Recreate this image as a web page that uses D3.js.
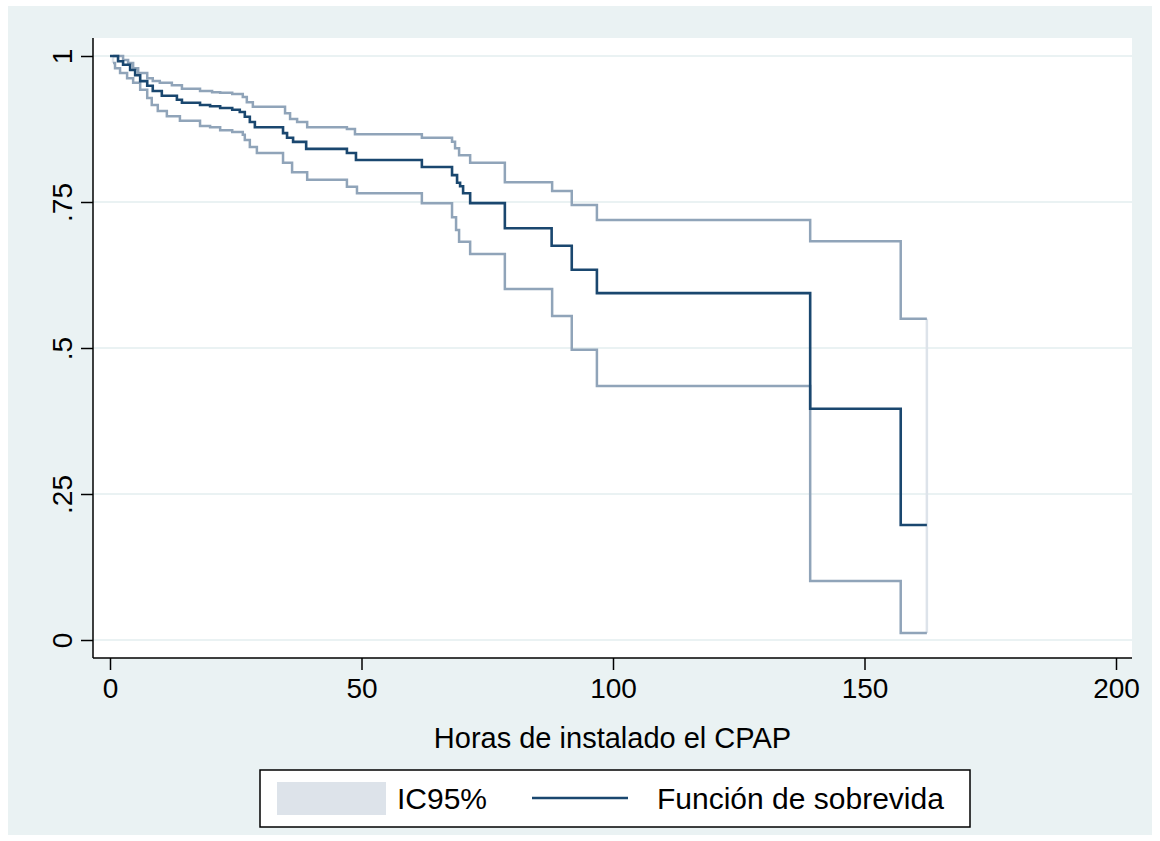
<!DOCTYPE html>
<html>
<head>
<meta charset="utf-8">
<script src="https://cdn.jsdelivr.net/npm/d3@7"></script>
<style>
  html, body { margin: 0; padding: 0; background: #fff; }
  svg { display: block; font-family: "Liberation Sans", Arial, sans-serif; }
</style>
</head>
<body>
<svg id="chart" width="1160" height="841"></svg>
<script>
// Kaplan-Meier survival estimate (hours since CPAP was installed)
const kmTime = [0, 1.6, 2.6, 4.0, 5.0, 6.0, 7.4, 8.5, 10.3, 13.3, 14.3, 17.9, 19.9, 21.9, 24.3, 25.8,
  26.8, 27.8, 28.8, 34.4, 35.2, 36.4, 39.0, 47.1, 48.9, 62.0, 68.0, 69.0, 69.6, 70.2, 71.6,
  78.5, 87.8, 91.8, 96.8, 139.2, 157.2];
const kmSurv = [1.0, 0.991, 0.985, 0.976, 0.967, 0.957, 0.949, 0.940, 0.932, 0.925, 0.920, 0.916, 0.914, 0.911, 0.908, 0.904,
  0.896, 0.887, 0.878, 0.868, 0.860, 0.853, 0.841, 0.834, 0.822, 0.810, 0.796, 0.783, 0.777, 0.765, 0.748,
  0.705, 0.675, 0.634, 0.594, 0.396, 0.197];

// upper 95% bound
const upTime = [0.6, 2.6, 3.6, 4.6, 5.6, 7.4, 8.5, 9.9, 12.3, 14.3, 17.9, 20.3, 21.9, 24.3, 26.4, 27.2,
  28.4, 34.8, 35.8, 37.2, 39.2, 47.1, 48.7, 62.0, 68.0, 68.6, 69.4, 71.6, 78.5, 87.9, 91.8, 96.8,
  139.2, 157.2];
const upSurv = [1.0, 0.993, 0.988, 0.979, 0.971, 0.962, 0.957, 0.954, 0.950, 0.944, 0.940, 0.938, 0.937, 0.935, 0.930, 0.921,
  0.913, 0.902, 0.892, 0.887, 0.878, 0.875, 0.866, 0.860, 0.853, 0.842, 0.830, 0.817, 0.784, 0.769, 0.745, 0.719,
  0.683, 0.550];

// lower 95% bound
const loTime = [0.6, 1.0, 2.0, 3.4, 4.6, 6.0, 7.4, 8.3, 9.5, 11.3, 13.9, 17.9, 19.9, 21.9, 24.3, 26.4,
  26.8, 27.8, 29.2, 34.4, 36.2, 39.2, 47.1, 49.1, 62.0, 68.0, 68.8, 69.4, 71.6, 78.5, 87.9, 91.8,
  96.8, 139.2, 157.2];
const loSurv = [0.988, 0.979, 0.971, 0.962, 0.954, 0.942, 0.928, 0.916, 0.906, 0.897, 0.889, 0.880, 0.878, 0.873, 0.870, 0.865,
  0.856, 0.844, 0.834, 0.817, 0.801, 0.788, 0.776, 0.765, 0.748, 0.724, 0.702, 0.682, 0.661, 0.601, 0.555, 0.497,
  0.435, 0.101, 0.012];

const lastTime = 162.4;

const xTicks = [0, 50, 100, 150, 200];
const yTicks = [0, 0.25, 0.5, 0.75, 1];
const yTickLabels = ["0", ".25", ".5", ".75", "1"];

const xTitle = "Horas de instalado el CPAP";
const legendLabels = ["IC95%", "Función de sobrevida"];

/* ------------------------------------------------------------------ */

const BG = "#eaf2f3";
const NAVY = "#1a476f";
const CI = "#90a4b9";
const CI_LIGHT = "#dde3ea";

const svg = d3.select("#chart");

// graph region + plot region
svg.append("rect").attr("x", 8).attr("y", 6).attr("width", 1144).attr("height", 829).attr("fill", BG);
const plot = { left: 93, right: 1132, top: 38, bottom: 658 };
svg.append("rect")
  .attr("x", plot.left).attr("y", plot.top)
  .attr("width", plot.right - plot.left).attr("height", plot.bottom - plot.top)
  .attr("fill", "#fff");

const x = d3.scaleLinear().domain([0, 200]).range([110, 1116]);
const y = d3.scaleLinear().domain([0, 1]).range([640, 56]);

// gridlines
svg.append("g").selectAll("line").data(yTicks).join("line")
  .attr("x1", plot.left).attr("x2", plot.right)
  .attr("y1", (d) => y(d)).attr("y2", (d) => y(d))
  .attr("stroke", BG).attr("stroke-width", 2);

// axes
const yAxis = svg.append("g").attr("transform", `translate(${plot.left},0)`)
  .call(d3.axisLeft(y).tickValues(yTicks).tickFormat((d, i) => yTickLabels[i]).tickSize(12));
yAxis.select(".domain").remove();
yAxis.selectAll(".tick line").attr("stroke", "#000").attr("stroke-width", 1.5);
yAxis.selectAll(".tick text")
  .attr("x", null).attr("dy", null)
  .attr("transform", "translate(-31,0) rotate(-90)")
  .attr("dy", "0.36em")
  .attr("text-anchor", "middle")
  .attr("fill", "#000")
  .style("font-size", "28px");

const xAxis = svg.append("g").attr("transform", `translate(0,${plot.bottom})`)
  .call(d3.axisBottom(x).tickValues(xTicks).tickFormat(d3.format("d")).tickSize(12).tickPadding(8));
xAxis.select(".domain").remove();
xAxis.selectAll(".tick line").attr("stroke", "#000").attr("stroke-width", 1.5);
xAxis.selectAll(".tick text").attr("fill", "#000").style("font-size", "28px");

svg.append("line")
  .attr("x1", plot.left).attr("x2", plot.left).attr("y1", plot.top).attr("y2", plot.bottom)
  .attr("stroke", "#000").attr("stroke-width", 1.5);
svg.append("line")
  .attr("x1", plot.left).attr("x2", plot.right).attr("y1", plot.bottom).attr("y2", plot.bottom)
  .attr("stroke", "#000").attr("stroke-width", 1.5);

svg.append("text")
  .attr("x", (plot.left + plot.right) / 2).attr("y", 748)
  .attr("text-anchor", "middle").style("font-size", "29px").attr("fill", "#000")
  .text(xTitle);

// curves
const toPts = (ts, vs) => ts.map((t, i) => [t, vs[i]]).concat([[lastTime, vs[vs.length - 1]]]);
const step = d3.line().x((d) => x(d[0])).y((d) => y(d[1])).curve(d3.curveStepAfter);

// band edges (start and end connectors)
svg.append("g").selectAll("line")
  .data([[upTime[0], upSurv[0], loSurv[0]], [lastTime, upSurv[upSurv.length - 1], loSurv[loSurv.length - 1]]])
  .join("line")
  .attr("x1", (d) => x(d[0])).attr("x2", (d) => x(d[0]))
  .attr("y1", (d) => y(d[1])).attr("y2", (d) => y(d[2]))
  .attr("stroke", CI_LIGHT).attr("stroke-width", 2.5);

svg.append("path").datum(toPts(upTime, upSurv)).attr("d", step)
  .attr("fill", "none").attr("stroke", CI).attr("stroke-width", 2.5);
svg.append("path").datum(toPts(loTime, loSurv)).attr("d", step)
  .attr("fill", "none").attr("stroke", CI).attr("stroke-width", 2.5);
svg.append("path").datum(toPts(kmTime, kmSurv)).attr("d", step)
  .attr("fill", "none").attr("stroke", NAVY).attr("stroke-width", 2.6);

// legend
const lg = svg.append("g");
lg.append("rect").attr("x", 260).attr("y", 770).attr("width", 710).attr("height", 57)
  .attr("fill", "#fff").attr("stroke", "#000").attr("stroke-width", 1.5);
lg.append("rect").attr("x", 277).attr("y", 782).attr("width", 109).attr("height", 33).attr("fill", CI_LIGHT);
lg.append("text").attr("x", 397).attr("y", 809).style("font-size", "30px").text(legendLabels[0]);
lg.append("line").attr("x1", 532).attr("x2", 628).attr("y1", 798).attr("y2", 798)
  .attr("stroke", NAVY).attr("stroke-width", 2.6);
lg.append("text").attr("x", 657).attr("y", 809).style("font-size", "30px").text(legendLabels[1]);
</script>
</body>
</html>
